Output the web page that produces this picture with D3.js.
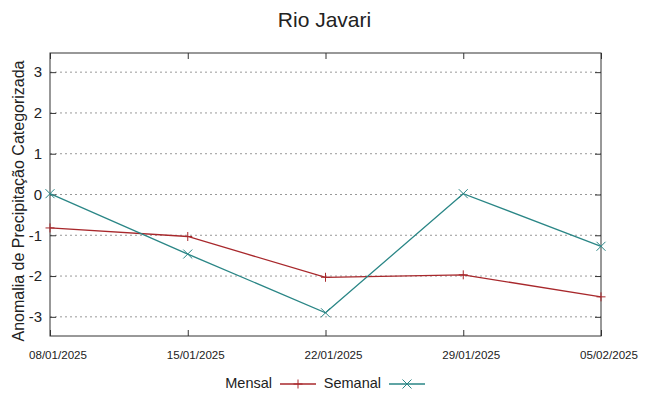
<!DOCTYPE html>
<html>
<head>
<meta charset="utf-8">
<script src="https://cdn.jsdelivr.net/npm/d3@7"></script>
<style>
  body { margin: 0; background: #fff; }
  svg text { font-family: "Liberation Sans", Arial, sans-serif; fill: #222; }
</style>
</head>
<body>
<div id="chart"></div>
<script>
const dates = ["08/01/2025", "15/01/2025", "22/01/2025", "29/01/2025", "05/02/2025"];
const mensal = [-0.82, -1.03, -2.03, -1.97, -2.51];
const semanal = [0.02, -1.46, -2.9, 0.02, -1.27];
const yTicks = [-3, -2, -1, 0, 1, 2, 3];

const W = 649, H = 396;
const margin = {top: 53, right: 48, bottom: 60, left: 50},
      width = W - margin.left - margin.right,
      height = H - margin.top - margin.bottom;

const parse = d3.timeParse("%d/%m/%Y");
const fmt = d3.timeFormat("%d/%m/%Y");
const xs = dates.map(parse);

const svg = d3.select("#chart")
    .append("svg")
    .attr("width", W)
    .attr("height", H);

const g = svg.append("g")
    .attr("transform", `translate(${margin.left},${margin.top})`);

const x = d3.scaleTime()
    .domain(d3.extent(xs))
    .range([0, width]);
const y = d3.scaleLinear()
    .domain([-3.47, 3.47])
    .range([height, 0]);

// grid
g.selectAll("line.grid")
    .data(yTicks)
    .enter()
    .append("line")
    .attr("class", "grid")
    .attr("x1", 0).attr("x2", width)
    .attr("y1", d => y(d)).attr("y2", d => y(d))
    .attr("stroke", "#999")
    .attr("stroke-width", 1)
    .attr("stroke-dasharray", "2,3");

// axes (ticks inward, mirrored)
const axisStyle = sel => {
    sel.select(".domain").remove();
    sel.selectAll("line").attr("stroke", "#333");
};
g.append("g")
    .call(d3.axisLeft(y).tickValues(yTicks).tickSize(-6).tickPadding(8).tickFormat(d => String(d)))
    .call(axisStyle)
    .selectAll("text").style("font-size", "15px");
g.append("g")
    .attr("transform", `translate(${width},0)`)
    .call(d3.axisRight(y).tickValues(yTicks).tickSize(-6).tickFormat(""))
    .call(axisStyle);
g.append("g")
    .attr("transform", `translate(0,${height})`)
    .call(d3.axisBottom(x).tickValues(xs).tickSize(-6).tickPadding(15).tickFormat(fmt))
    .call(axisStyle)
    .selectAll("text")
    .attr("dx", 7.5)
    .style("font-size", "11.6px");
g.append("g")
    .call(d3.axisTop(x).tickValues(xs).tickSize(-6).tickFormat(""))
    .call(axisStyle);

g.append("rect")
    .attr("width", width).attr("height", height)
    .attr("fill", "none")
    .attr("stroke", "#333")
    .attr("stroke-width", 1);

// title and label
svg.append("text")
    .attr("x", W / 2).attr("y", 27)
    .attr("text-anchor", "middle")
    .style("font-size", "21px")
    .text("Rio Javari");
svg.append("text")
    .attr("transform", `translate(24,201) rotate(-90)`)
    .attr("text-anchor", "middle")
    .style("font-size", "16px")
    .text("Anomalia de Precipitação Categorizada");

// series
const series = [
    {name: "Mensal", values: mensal, color: "#a8282c", mark: "plus"},
    {name: "Semanal", values: semanal, color: "#2a8686", mark: "cross"}
];

const line = d3.line()
    .x((d, i) => x(xs[i]))
    .y(d => y(d));

const marker = (kind, s) => {
    if (kind === "plus") return `M${-s},0H${s}M0,${-s}V${s}`;
    return `M${-s},${-s}L${s},${s}M${-s},${s}L${s},${-s}`;
};

series.forEach(s => {
    g.append("path")
        .datum(s.values)
        .attr("d", line)
        .attr("fill", "none")
        .attr("stroke", s.color)
        .attr("stroke-width", 1.3);
    g.selectAll(null)
        .data(s.values)
        .enter()
        .append("path")
        .attr("transform", (d, i) => `translate(${x(xs[i])},${y(d)})`)
        .attr("d", marker(s.mark, 4.5))
        .attr("stroke", s.color)
        .attr("stroke-width", 1);
});

// legend
const legend = svg.append("g").attr("transform", "translate(0,384)");
const legendPos = [{tx: 272, lx: 280}, {tx: 381, lx: 389}];
series.forEach((s, i) => {
    const p = legendPos[i];
    legend.append("text")
        .attr("x", p.tx).attr("y", 4)
        .attr("text-anchor", "end")
        .style("font-size", "14.5px")
        .text(s.name);
    legend.append("line")
        .attr("x1", p.lx).attr("x2", p.lx + 36)
        .attr("stroke", s.color).attr("stroke-width", 1.3);
    legend.append("path")
        .attr("transform", `translate(${p.lx + 18},0)`)
        .attr("d", marker(s.mark, 4.5))
        .attr("stroke", s.color).attr("stroke-width", 1);
});
</script>
</body>
</html>
